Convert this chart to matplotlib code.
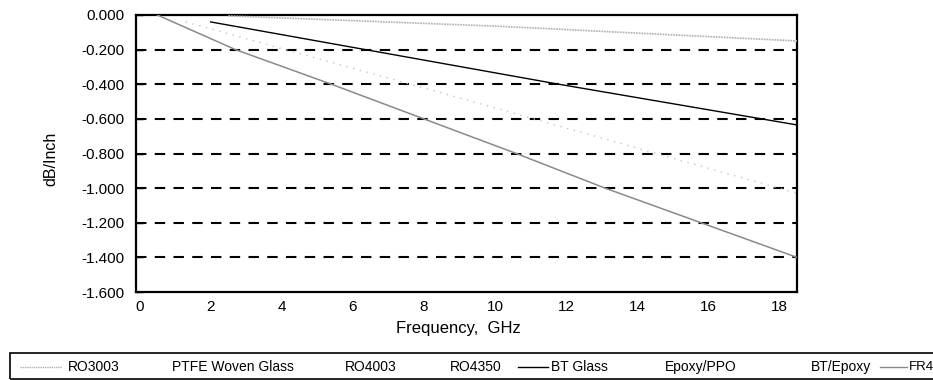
import matplotlib
matplotlib.use("Agg")
import matplotlib.pyplot as plt
from matplotlib.lines import Line2D
from matplotlib.patches import Rectangle

plt.rcParams['font.family'] = ['Liberation Sans', 'DejaVu Sans']

# ---- data ----
freq_ro3003 = [2.5, 10.1, 18.5]
loss_ro3003 = [-0.005, -0.065, -0.150]

freq_epoxy_ppo = [1.3, 9.2, 18.5]
loss_epoxy_ppo = [-0.04, -0.49, -1.03]

freq_bt_glass = [2.0, 11.8, 18.5]
loss_bt_glass = [-0.04, -0.40, -0.635]

freq_fr4 = [0.5, 2.7, 5.4, 8.0, 10.6, 13.1, 15.8, 18.5]
loss_fr4 = [0.0, -0.2, -0.4, -0.6, -0.8, -1.0, -1.2, -1.4]

legend_labels = ["RO3003", "PTFE Woven Glass", "RO4003", "RO4350",
                 "BT Glass", "Epoxy/PPO", "BT/Epoxy", "FR4"]
x_ticks = [0, 2, 4, 6, 8, 10, 12, 14, 16, 18]
y_ticks = [0.0, -0.2, -0.4, -0.6, -0.8, -1.0, -1.2, -1.4, -1.6]
grid_levels = [-0.2, -0.4, -0.6, -0.8, -1.0, -1.2, -1.4]

W, H = 933, 380
fig = plt.figure(figsize=(W / 100, H / 100), dpi=100)
ax = fig.add_axes([136 / W, (H - 292) / H, (797 - 136) / W, (292 - 15) / H])

for g in grid_levels:
    ax.axhline(g, color='black', lw=1.5, dashes=(5, 4), zorder=1)

ax.plot(freq_ro3003, loss_ro3003, color='#b0b0b0', lw=1.2, ls=(0, (1, 0.6)), zorder=3)
ax.plot(freq_epoxy_ppo, loss_epoxy_ppo, color='#c4c4c4', lw=1.0, ls=(0, (1, 4)), zorder=3)
ax.plot(freq_bt_glass, loss_bt_glass, color='black', lw=1.0, zorder=3)
ax.plot(freq_fr4, loss_fr4, color='#8a8a8a', lw=1.1, zorder=3)

ax.set_xlim(-0.1, 18.5)
ax.set_ylim(-1.6, 0.0)
ax.set_xticks(x_ticks)
ax.set_yticks(y_ticks)
ax.set_yticklabels(["%.3f" % v for v in y_ticks])
ax.tick_params(axis='x', length=0, labelsize=11, pad=6)
ax.tick_params(axis='y', direction='in', length=5, width=1, labelsize=11, pad=8)
for s in ax.spines.values():
    s.set_linewidth(1.6)
    s.set_color('black')

fig.text(458 / W, (H - 328) / H, "Frequency,  GHz", fontsize=12,
         ha='center', va='center')
fig.text(51 / W, (H - 159) / H, "dB/Inch", fontsize=11.5, rotation=90,
         ha='center', va='center')

# ---- legend drawn as a framed row (clipped at the right edge like the reference) ----
fig.add_artist(Rectangle((10 / W, 1 / H), 1.2, (H - 353 - 1) / H,
                         transform=fig.transFigure, fill=False,
                         edgecolor='black', lw=1.2))
styles = [
    dict(color='#b0b0b0', lw=1.0, ls=(0, (1, 0.6))),
    None, None, None,
    dict(color='black', lw=1.0),
    None, None,
    dict(color='#8a8a8a', lw=1.0),
]
handle_px = [(20, 62), None, None, None, (518, 548), None, None, (880, 907)]
text_px = [68, 172, 345, 450, 551, 665, 811, 909]
ty = (H - 367) / H
for lab, st, hp, tx in zip(legend_labels, styles, handle_px, text_px):
    if st is not None:
        fig.add_artist(Line2D([hp[0] / W, hp[1] / W], [ty, ty],
                              transform=fig.transFigure, **st))
    fig.text(tx / W, ty, lab, fontsize=10 if lab != "FR4" else 9.5,
             ha='left', va='center')

fig.savefig("out.png", dpi=100)
